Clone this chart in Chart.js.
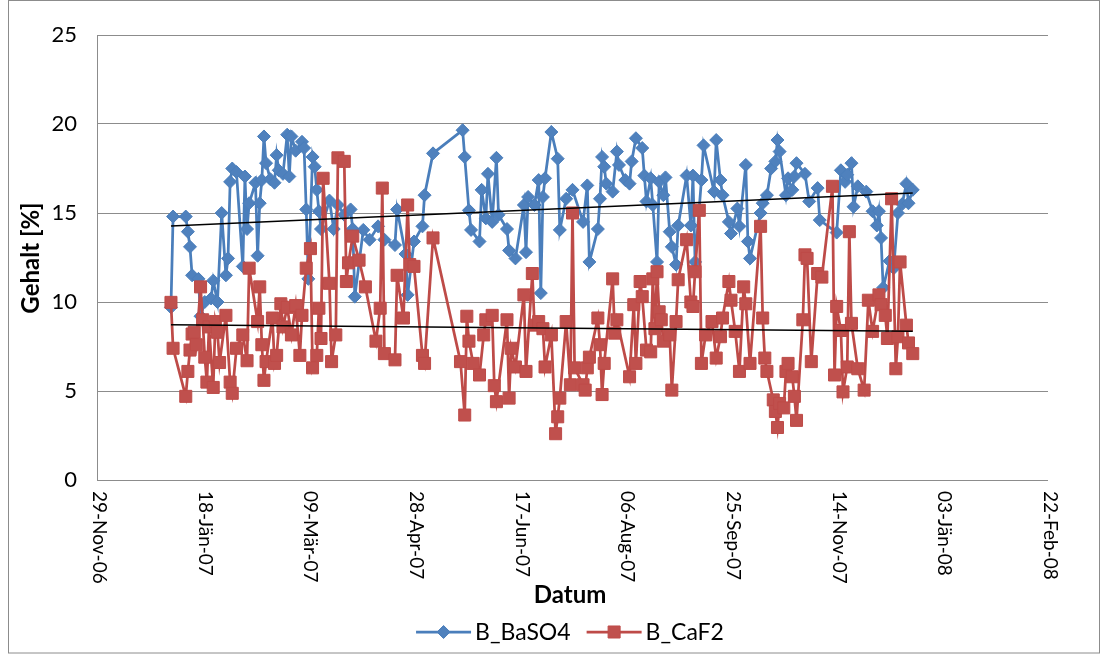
<!DOCTYPE html>
<html>
<head>
<meta charset="utf-8">
<script src="https://cdn.jsdelivr.net/npm/chart.js@4.4.1/dist/chart.umd.min.js"></script>
<style>
  html, body { margin: 0; padding: 0; background: #ffffff; }
  #wrap { position: relative; width: 1106px; height: 654px; }
</style>
</head>
<body>
<div id="wrap"><canvas id="chart" width="1106" height="654"></canvas></div>
<script>
// Sampling dates as Excel serial day numbers (39085 = 02-Jän-07)
const baDates = [
  39085, 39086, 39092, 39093, 39094, 39095, 39098, 39099, 39101, 39104,
  39105, 39107, 39109, 39111, 39112, 39113, 39114, 39116, 39119, 39120,
  39121, 39122, 39125, 39126, 39127, 39128, 39129, 39130, 39132, 39134,
  39135, 39136, 39138, 39140, 39141, 39142, 39144, 39147, 39148, 39149,
  39150, 39152, 39153, 39154, 39155, 39156, 39160, 39162, 39164, 39167,
  39170, 39171, 39172, 39176, 39179, 39183, 39186, 39191, 39192, 39196,
  39197, 39200, 39204, 39205, 39209, 39223, 39224, 39226, 39227, 39231,
  39232, 39234, 39235, 39237, 39239, 39240, 39244, 39245, 39248, 39252,
  39253, 39254, 39257, 39259, 39260, 39261, 39262, 39265, 39268, 39269,
  39272, 39275, 39280, 39282, 39283, 39287, 39288, 39289, 39290, 39291,
  39294, 39296, 39297, 39300, 39302, 39303, 39305, 39308, 39309, 39310,
  39312, 39313, 39315, 39316, 39318, 39319, 39321, 39322, 39324, 39325,
  39329, 39331, 39332, 39333, 39336, 39337, 39342, 39343, 39345, 39346,
  39349, 39350, 39353, 39354, 39357, 39358, 39359, 39364, 39365, 39367,
  39369, 39371, 39372, 39373, 39376, 39377, 39379, 39380, 39381, 39385,
  39387, 39391, 39392, 39400, 39402, 39404, 39405, 39407, 39408, 39410,
  39414, 39417, 39419, 39420, 39421, 39422, 39425, 39427, 39429, 39431,
  39433, 39434, 39436
];
const baValues = [
  9.7, 14.8, 14.8, 13.95, 13.1, 11.5, 11.3, 9.2, 10.0, 10.2,
  11.2, 10.0, 15.0, 11.5, 12.45, 16.75, 17.5, 17.3, 12.0, 17.05,
  14.1, 15.55, 16.7, 12.6, 15.55, 16.85, 19.3, 17.8, 16.9, 16.7,
  18.25, 17.4, 17.2, 19.4, 17.05, 19.3, 18.5, 19.0, 18.65, 15.2,
  11.3, 18.15, 17.6, 16.3, 15.1, 14.1, 15.7, 14.1, 15.45, 14.9,
  15.2, 14.1, 10.3, 14.05, 13.5, 14.25, 13.5, 13.2, 15.2, 12.7,
  10.4, 13.4, 14.25, 16.0, 18.35, 19.65, 18.15, 15.15, 14.05, 13.4,
  16.3, 14.7, 17.2, 14.5, 18.1, 14.9, 14.1, 12.9, 12.45, 15.45,
  12.8, 15.9, 15.45, 16.85, 10.5, 15.9, 16.95, 19.55, 18.05, 14.05,
  15.8, 16.3, 14.5, 16.55, 12.25, 14.1, 15.8, 18.15, 17.6, 16.65,
  16.2, 18.45, 17.7, 16.85, 16.65, 17.9, 19.2, 18.65, 17.1, 15.65,
  16.95, 15.45, 12.25, 16.75, 16.0, 17.0, 13.95, 13.1, 12.1, 14.3,
  17.1, 14.3, 17.1, 12.25, 16.85, 18.8, 16.2, 19.1, 16.85, 16.0,
  14.5, 13.85, 15.25, 14.25, 17.7, 13.4, 12.45, 15.0, 15.55, 16.0,
  17.5, 17.9, 19.1, 18.45, 16.0, 16.95, 16.3, 17.05, 17.8, 17.2,
  15.65, 16.4, 14.6, 13.9, 17.4, 16.75, 17.15, 17.8, 15.35, 16.5,
  16.2, 15.1, 14.3, 15.1, 13.6, 10.8, 12.3, 11.9, 15.0, 15.5,
  16.65, 15.55, 16.3
];

const caDates = [
  39085, 39086, 39092, 39093, 39094, 39095, 39096, 39097, 39099, 39100,
  39101, 39102, 39103, 39105, 39106, 39107, 39108, 39111, 39113, 39114,
  39116, 39119, 39121, 39122, 39126, 39127, 39128, 39129, 39130, 39133,
  39134, 39135, 39137, 39138, 39140, 39142, 39144, 39146, 39147, 39149,
  39151, 39152, 39154, 39155, 39156, 39157, 39160, 39161, 39163, 39164,
  39167, 39168, 39169, 39171, 39174, 39177, 39182, 39184, 39185, 39186,
  39191, 39192, 39195, 39197, 39198, 39200, 39204, 39205, 39209, 39222,
  39224, 39225, 39226, 39228, 39231, 39233, 39234, 39237, 39238, 39239,
  39244, 39245, 39246, 39248, 39252, 39253, 39256, 39257, 39259, 39261,
  39262, 39265, 39267, 39268, 39269, 39272, 39274, 39275, 39276, 39280,
  39281, 39282, 39283, 39287, 39288, 39289, 39290, 39294, 39295, 39296,
  39302, 39304, 39305, 39307, 39308, 39310, 39312, 39313, 39314, 39315,
  39316, 39317, 39318, 39321, 39322, 39324, 39325, 39329, 39331, 39332,
  39333, 39335, 39336, 39338, 39341, 39343, 39345, 39346, 39349, 39350,
  39352, 39354, 39356, 39357, 39359, 39364, 39365, 39366, 39367, 39370,
  39371, 39372, 39373, 39375, 39376, 39377, 39379, 39380, 39381, 39384,
  39385, 39386, 39388, 39391, 39393, 39398, 39399, 39400, 39402, 39403,
  39405, 39406, 39407, 39410, 39413, 39415, 39417, 39420, 39421, 39423,
  39424, 39426, 39428, 39429, 39430, 39433, 39434, 39436
];
const caValues = [
  9.98, 7.4, 4.7, 6.1, 7.3, 8.2, 8.3, 7.6, 10.85, 9.0,
  6.9, 5.5, 8.6, 5.2, 8.9, 8.3, 6.6, 9.25, 5.5, 4.87,
  7.4, 8.15, 6.7, 11.9, 8.9, 10.85, 7.6, 5.6, 6.65, 9.1,
  6.55, 7.0, 9.9, 8.6, 9.7, 8.15, 9.8, 7.0, 9.25, 11.9,
  13.0, 6.3, 7.0, 9.65, 7.95, 16.95, 11.05, 6.65, 8.15, 18.1,
  17.9, 11.15, 12.2, 13.7, 12.35, 10.85, 7.8, 9.65, 16.4, 7.1,
  6.75, 11.5, 9.1, 15.45, 12.1, 12.0, 7.0, 6.55, 13.6, 6.65,
  3.65, 9.2, 7.8, 6.55, 5.9, 8.15, 9.0, 9.25, 5.3, 4.4,
  9.0, 4.6, 7.4, 6.35, 10.4, 6.1, 11.6, 8.7, 8.9, 8.5,
  6.35, 8.15, 2.6, 3.55, 4.6, 8.9, 5.35, 15.0, 6.3, 5.35,
  5.05, 6.3, 6.9, 9.1, 7.6, 4.8, 6.55, 11.3, 8.25, 9.0,
  5.8, 9.85, 6.55, 11.15, 10.3, 7.3, 7.2, 11.3, 8.5, 11.7,
  9.45, 9.0, 7.8, 8.15, 5.05, 8.9, 11.25, 13.5, 10.0, 9.75,
  11.7, 15.15, 6.55, 8.15, 8.9, 6.85, 8.05, 9.1, 11.15, 10.1,
  8.35, 6.1, 10.85, 9.9, 6.55, 14.25, 9.1, 6.85, 6.1, 4.5,
  3.85, 2.95, 4.3, 4.05, 6.1, 6.55, 5.8, 4.7, 3.35, 9.0,
  12.65, 12.45, 6.65, 11.6, 11.4, 16.5, 5.9, 9.75, 8.4, 4.95,
  6.35, 13.95, 8.8, 6.25, 5.05, 10.1, 8.35, 10.4, 9.85, 9.25,
  7.95, 15.8, 6.25, 8.05, 12.25, 8.7, 7.7, 7.1
];

// Linear trend values at the first and last sampling date
const baTrendEnds = [14.27, 16.12];
const caTrendEnds = [8.72, 8.36];

const seriesNames = ['B_BaSO4', 'B_CaF2'];
const xRange = [39050, 39500];   // 29-Nov-06 .. 22-Feb-08
const xStep = 50;
const yRange = [0, 25];
const yStep = 5;
const monthNames = ['Jän', 'Feb', 'Mär', 'Apr', 'Mai', 'Jun', 'Jul', 'Aug', 'Sep', 'Okt', 'Nov', 'Dez'];

const BLUE_LINE = '#4A7EBB', BLUE_FILL = '#4F81BD';
const RED_LINE = '#BE4B48', RED_FILL = '#C0504D';
const GRID = '#8C8C8C';
const FONT = 'Lato, "Open Sans", sans-serif';

function serialToLabel(serial) {
  const d = new Date((serial - 25569) * 86400000);
  const dd = String(d.getUTCDate()).padStart(2, '0');
  const yy = String(d.getUTCFullYear() % 100).padStart(2, '0');
  return dd + '-' + monthNames[d.getUTCMonth()] + '-' + yy;
}

function toPoints(dates, values) {
  return dates.map((x, i) => ({ x, y: values[i] }));
}

function trendPoints(dates, ends) {
  return [
    { x: dates[0], y: ends[0] },
    { x: dates[dates.length - 1], y: ends[1] }
  ];
}

// Rotated date labels, axis titles, legend and outer frame
const decorations = {
  id: 'decorations',
  afterDraw(chart) {
    const ctx = chart.ctx;
    const xs = chart.scales.x;
    const area = chart.chartArea;
    ctx.save();

    // date tick labels, read top to bottom
    ctx.fillStyle = '#000';
    ctx.font = '19px ' + FONT;
    ctx.textAlign = 'left';
    ctx.textBaseline = 'middle';
    xs.ticks.forEach(t => {
      const px = xs.getPixelForValue(t.value);
      ctx.save();
      ctx.translate(px + 2, area.bottom + 11);
      ctx.rotate(Math.PI / 2);
      ctx.fillText(serialToLabel(t.value), 0, 0);
      ctx.restore();
    });

    // axis titles
    ctx.font = 'bold 24px ' + FONT;
    ctx.textAlign = 'center';
    ctx.textBaseline = 'middle';
    ctx.fillText('Datum', 570, 595);
    ctx.save();
    ctx.translate(31, 258);
    ctx.rotate(-Math.PI / 2);
    ctx.fillText('Gehalt [%]', 0, 0);
    ctx.restore();

    // legend: line with marker, then series name
    ctx.font = '23px ' + FONT;
    ctx.textAlign = 'left';
    const symW = 55, gapText = 4, gapItem = 16;
    const items = chart.data.datasets.filter(d => !d.isTrend);
    const widths = items.map(d => symW + gapText + ctx.measureText(d.label).width);
    const total = widths.reduce((a, b) => a + b, 0) + gapItem * (items.length - 1);
    let lx = 570 - total / 2;
    const ly = 632;
    items.forEach((d, i) => {
      const cx = lx + symW / 2;
      ctx.strokeStyle = d.borderColor;
      ctx.lineWidth = d.borderWidth;
      ctx.beginPath();
      ctx.moveTo(lx, ly);
      ctx.lineTo(lx + symW, ly);
      ctx.stroke();
      ctx.fillStyle = d.pointBackgroundColor;
      ctx.strokeStyle = d.pointBorderColor;
      ctx.lineWidth = 1;
      ctx.beginPath();
      if (d.pointStyle === 'rectRot') {
        const r = d.pointRadius;
        ctx.moveTo(cx - r, ly);
        ctx.lineTo(cx, ly - r);
        ctx.lineTo(cx + r, ly);
        ctx.lineTo(cx, ly + r);
      } else {
        const s = d.pointRadius * Math.SQRT1_2;
        ctx.rect(cx - s, ly - s, 2 * s, 2 * s);
      }
      ctx.closePath();
      ctx.fill();
      ctx.stroke();
      ctx.fillStyle = '#000';
      ctx.textBaseline = 'middle';
      ctx.fillText(d.label, lx + symW + gapText, ly + 1);
      lx += widths[i] + gapItem;
    });

    // outer frame
    ctx.strokeStyle = GRID;
    ctx.lineWidth = 1;
    ctx.strokeRect(8.5, 0.5, 1091, 652.5);
    ctx.restore();
  }
};

new Chart(document.getElementById('chart'), {
  type: 'line',
  data: {
    datasets: [
      {
        label: seriesNames[0],
        data: toPoints(baDates, baValues),
        borderColor: BLUE_LINE,
        borderWidth: 2.75,
        pointStyle: 'rectRot',
        pointRadius: 6.5,
        pointBackgroundColor: BLUE_FILL,
        pointBorderColor: BLUE_LINE,
        pointBorderWidth: 1,
        tension: 0,
        order: 3
      },
      {
        label: seriesNames[1],
        data: toPoints(caDates, caValues),
        borderColor: RED_LINE,
        borderWidth: 2.75,
        pointStyle: 'rect',
        pointRadius: 8.5,
        pointBackgroundColor: RED_FILL,
        pointBorderColor: RED_LINE,
        pointBorderWidth: 1,
        tension: 0,
        order: 2
      },
      {
        label: 'Linear (' + seriesNames[0] + ')',
        isTrend: true,
        data: trendPoints(baDates, baTrendEnds),
        borderColor: '#000000',
        borderWidth: 1.5,
        pointRadius: 0,
        order: 1
      },
      {
        label: 'Linear (' + seriesNames[1] + ')',
        isTrend: true,
        data: trendPoints(caDates, caTrendEnds),
        borderColor: '#000000',
        borderWidth: 1.5,
        pointRadius: 0,
        order: 0
      }
    ]
  },
  options: {
    responsive: false,
    animation: false,
    events: [],
    layout: { padding: { left: 0, right: 58, top: 35, bottom: 0 } },
    plugins: { legend: { display: false }, tooltip: { enabled: false }, title: { display: false } },
    scales: {
      x: {
        type: 'linear',
        min: xRange[0],
        max: xRange[1],
        ticks: { stepSize: xStep, display: false },
        grid: { display: false },
        border: { display: false },
        afterFit(scale) { scale.height = 174; }
      },
      y: {
        min: yRange[0],
        max: yRange[1],
        ticks: {
          stepSize: yStep,
          padding: 20,
          color: '#000',
          font: { family: FONT, size: 22 }
        },
        grid: { color: GRID, lineWidth: 1, drawTicks: false },
        border: { display: true, color: GRID, width: 1 },
        afterFit(scale) { scale.width = 97; }
      }
    }
  },
  plugins: [decorations]
});
</script>
</body>
</html>
